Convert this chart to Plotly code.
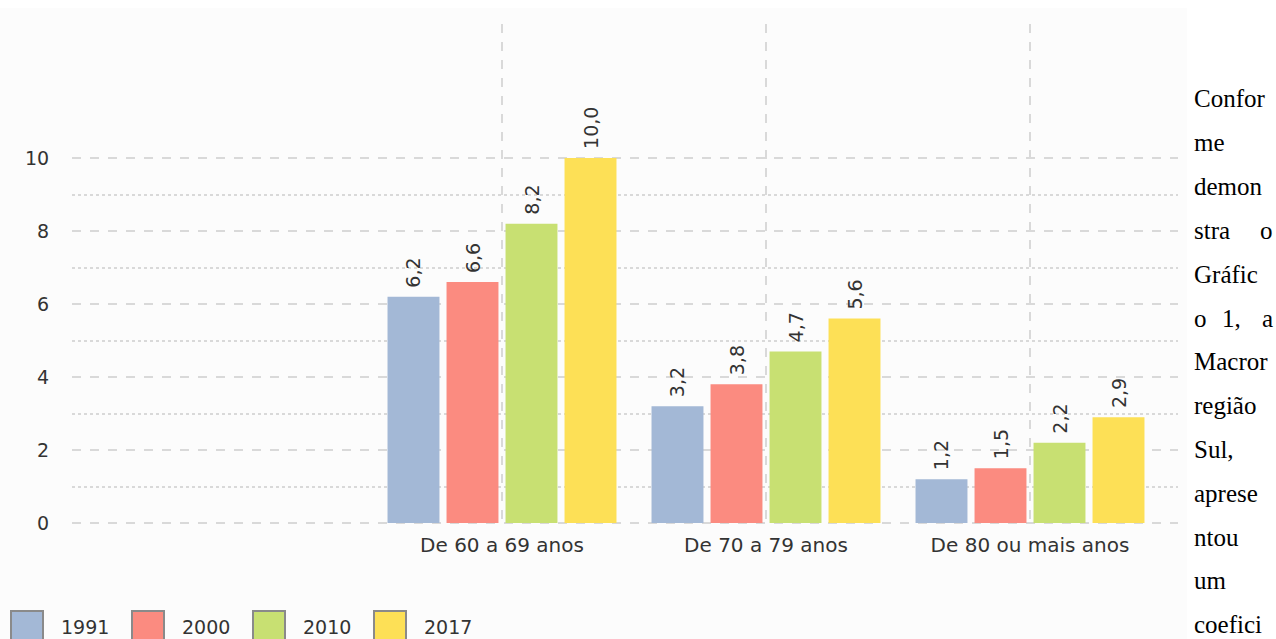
import plotly.graph_objects as go

categories = ["De 60 a 69 anos", "De 70 a 79 anos", "De 80 ou mais anos"]
years = ["1991", "2000", "2010", "2017"]
v1991 = [6.2, 3.2, 1.2]
v2000 = [6.6, 3.8, 1.5]
v2010 = [8.2, 4.7, 2.2]
v2017 = [10.0, 5.6, 2.9]
series = [v1991, v2000, v2010, v2017]
colors = ["#a3b8d6", "#fb8b80", "#c8e072", "#fde056"]
y_ticks = [0, 2, 4, 6, 8, 10]
y_minor = [1, 3, 5, 7, 9]
side_text = ["Confor", "me", "demon", "stra o", "Gráfic", "o 1, a", "Macror",
             "região", "Sul,", "aprese", "ntou", "um", "coefici"]

W, H = 1276, 639
# plot area in page pixels
SX0, SX1, SY0, SY1 = 72, 1178, 24, 525
UNIT = 36.5  # px per y unit; y=0 at 523
L, R, T, B = SX0, W - SX1, SY0, H - SY1
pw, ph = W - L - R, H - T - B
ymin = -(SY1 - 523) / UNIT
ymax = ymin + ph / UNIT

xpos = [i + 1 for i in range(len(categories))]
FONT = "DejaVu Sans"
FS = 19

fig = go.Figure()
for name, vals, col in zip(years, series, colors):
    fig.add_trace(go.Bar(
        x=xpos, y=vals, name=name, marker=dict(color=col, line=dict(width=0)),
        text=["\u00a0" + f"{v:.1f}".replace(".", ",") for v in vals],
        textposition="outside", textangle=-90, constraintext="none",
        cliponaxis=False,
        textfont=dict(family=FONT, size=FS, color="#333333"),
        showlegend=False,
    ))

def px_x(p):
    return (p - SX0) / pw

def px_y(p):
    return (SY1 - p) / ph

shapes = [dict(type="rect", xref="paper", yref="paper", layer="below",
               x0=px_x(0), x1=px_x(1187), y0=px_y(660), y1=px_y(8),
               fillcolor="#fcfcfc", line=dict(width=0))]
annotations = []

# custom legend
for i, (name, col) in enumerate(zip(years, colors)):
    x0 = 11 + 121 * i
    shapes.append(dict(type="rect", xref="paper", yref="paper",
                       x0=px_x(x0), x1=px_x(x0 + 32), y0=px_y(641), y1=px_y(611),
                       fillcolor=col, line=dict(color="#8a8a8a", width=2)))
    annotations.append(dict(xref="paper", yref="paper", x=px_x(x0 + 48), y=px_y(627),
                            text=name, showarrow=False, xanchor="left", yanchor="middle",
                            font=dict(family=FONT, size=FS, color="#333333")))

# side paragraph text (justified column)
SERIF = "Liberation Serif"
for i, line in enumerate(side_text):
    yc = 99 + 43.8 * i
    words = line.split(" ")
    n = len(words)
    for j, w in enumerate(words):
        if j == 0:
            xa, xx = "left", 1192
        elif j == n - 1:
            xa, xx = "right", 1275
        else:
            xa, xx = "center", 1192 + (1275 - 1192) * j / (n - 1) - 2
        annotations.append(dict(xref="paper", yref="paper", x=px_x(xx), y=px_y(yc),
                                text=w, showarrow=False, xanchor=xa, yanchor="middle",
                                font=dict(family=SERIF, size=25, color="#000000")))

fig.update_layout(
    width=W, height=H,
    margin=dict(l=L, r=R, t=T, b=B),
    paper_bgcolor="#ffffff", plot_bgcolor="rgba(0,0,0,0)",
    barmode="group", bargap=0.106, bargroupgap=0.12,
    shapes=shapes, annotations=annotations,
    showlegend=False,
)
fig.update_xaxes(
    range=[1 - (502 - SX0) / 264, 1 + (SX1 - 502) / 264],
    tickvals=xpos, ticktext=categories,
    showgrid=True, gridcolor="#d9d9d9", gridwidth=2, griddash="dash",
    zeroline=False, showline=False,
    ticks="outside", ticklen=2, tickcolor="rgba(0,0,0,0)",
    tickfont=dict(family=FONT, size=20, color="#333333"),
)
fig.update_yaxes(
    range=[ymin, ymax],
    tickvals=y_ticks, ticktext=[str(v) for v in y_ticks],
    showgrid=True, gridcolor="#d9d9d9", gridwidth=2, griddash="dash",
    minor=dict(tickvals=y_minor, showgrid=True, gridcolor="#d9d9d9", gridwidth=1.5, griddash="dot"),
    zeroline=False, showline=False,
    ticks="outside", ticklen=18, tickcolor="rgba(0,0,0,0)",
    tickfont=dict(family=FONT, size=FS, color="#333333"),
)

fig.write_html("out.html", config={"displayModeBar": False},
               post_script="document.body.style.margin='0';document.body.style.overflow='hidden';")
